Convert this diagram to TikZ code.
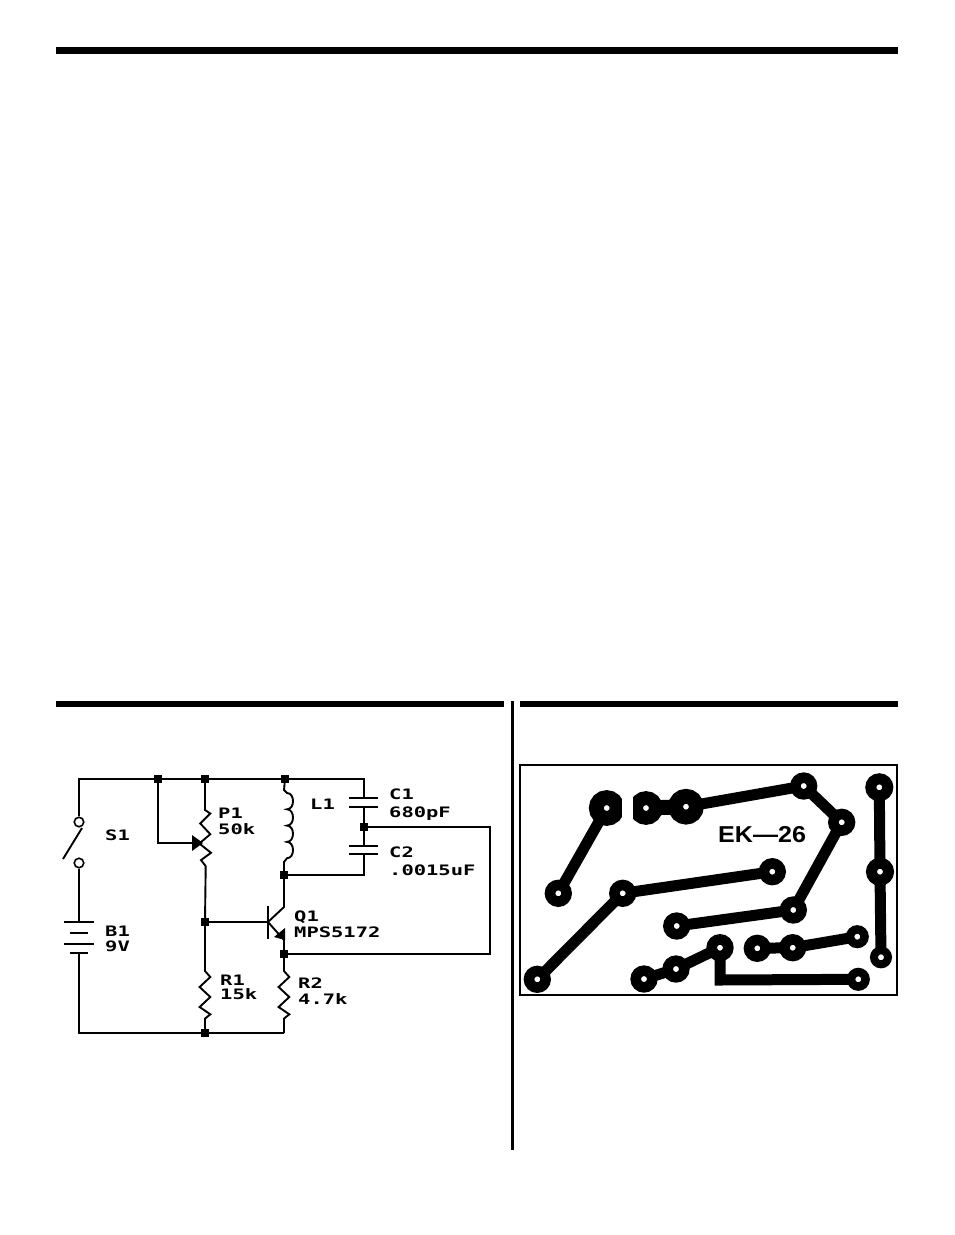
\documentclass[tikz,border=0pt]{standalone}
\usepackage{tikz}
\usepackage{fontspec}
\newfontfamily\schfont[FakeStretch=1.42]{DejaVu Sans Mono}
\newfontfamily\ekfont[FakeStretch=1.09]{Liberation Sans}
\tikzset{
  wire/.style={line width=1.9pt},
  dot/.style={rectangle,fill=black,inner sep=0pt,minimum size=8pt},
  term/.style={circle,draw,line width=1.6pt,fill=white,inner sep=0pt,minimum size=9.5pt},
  lab/.style={anchor=base west,inner sep=0pt,font=\schfont\bfseries\fontsize{14.4}{15}\selectfont},
  pad/.style={circle,draw=black,fill=white,inner sep=0pt,line width={(#1)-3},minimum size={(#1)+3}},
  pad/.default=13.6,
  trace/.style={line width=#1,shorten >=-3pt,shorten <=-3pt},
  trace/.default=11pt
}
\newcommand{\zigres}{-- ++(5.3,6) -- ++(-10.7,10) -- ++(10.7,10) -- ++(-10.7,10) -- ++(10.7,7.3) -- ++(-5.3,4.3)}
\newcommand{\coilbump}{.. controls +(8,0) and +(8,0) .. ++(0,16.3)}
\begin{document}
\begin{tikzpicture}[x=1pt,y=-1pt]
        \useasboundingbox (0,0) rectangle (954,1235);
        \fill (56,47) rectangle (898,54);
        \fill (56,701) rectangle (504,707);
        \fill (520,701) rectangle (898,707);
        \fill (511,701) rectangle (514,1150);

        \node[dot](a) at (158,779) {};
        \node[dot](b) at (205,779) {};
        \node[dot](c) at (285,779) {};
        \node[dot](d) at (205,922) {};
        \node[dot](e) at (205,1033) {};
        \node[dot](f) at (284,875) {};
        \node[dot](g) at (364,827) {};
        \node[dot](h) at (284,954) {};
        \node[term](s1a) at (79,822) {};
        \node[term](s1b) at (79,863) {};
        \coordinate(tl) at (79,779);
        \coordinate(bl) at (79,1033);
        \coordinate(br) at (284,1033);
        \coordinate(tc) at (364,779);
        \coordinate(bc) at (364,875);
        \coordinate(wp) at (158,843);
        \coordinate(fa) at (490,827);
        \coordinate(fb) at (490,954);
        \coordinate(arma) at (63,859);
        \coordinate(armb) at (82,828);
        \coordinate(bat1) at (79,922);
        \coordinate(bat2) at (79,953);
        \coordinate(c1a) at (364,798);
        \coordinate(c1b) at (364,807);
        \coordinate(c2a) at (364,846);
        \coordinate(c2b) at (364,854);
        \coordinate(qb) at (268,922);
        \coordinate(qc) at (284,907);
        \coordinate(qe) at (284,940);

        \begin{scope}[wire]
        \draw(s1a)--(tl)--(c);
        \draw(a)--(wp)--(192,843);
        \draw(s1b)--(bat1);
        \draw(bat2)--(bl)--(br);
        \draw(armb)--(arma);
        \draw(c)--(tc)--(c1a);
        \draw(c1b)--(g);
        \draw(g)--(c2a);
        \draw(c2b)--(bc)--(f);
        \draw(g)--(fa)--(fb)--(h);
        \draw(d)--(qb);
        \draw(qb)--(qc)--(f);
        \draw(qb)--(qe)--(h);
        \draw(268,906)--(268,939);
        \draw(349,798)--(378,798);
        \draw(349,807)--(378,807);
        \draw(349,846)--(378,846);
        \draw(349,854)--(378,854);
        \draw(64,922)--(94,922);
        \draw(70,933)--(88,933);
        \draw(64,944)--(94,944);
        \draw(70,953)--(88,953);
        \draw(b)--(205,810) -- ++(5.3,3.5) -- ++(-10,10) -- ++(10,10.7) -- ++(-11,9.3) -- ++(11.7,9.3) -- ++(-10,7.3) -- ++(4.7,6) -- (d);
        \draw(d)--(205,971) \zigres -- (e);
        \draw(h)--(284,971) -- ++(5.3,6) -- ++(-10.7,10) -- ++(10.7,10) -- ++(-10.7,10) -- ++(10.7,7.3) -- ++(-5.3,4.3) -- (br);
        \draw(c)--(284,790)--(287,793) \coilbump \coilbump \coilbump \coilbump --(284,862)--(f);
        \end{scope}
        \fill (192,835) -- (203,843) -- (192,851) -- cycle;
        \fill (285,928) -- (274,937) -- (285,940) -- cycle;

        \node[lab](s1) at (105,840) {S1};
        \node[lab](b1) at (105,936) {B1};
        \node[lab](b1v) at (105,951) {9V};
        \node[lab](p1) at (218,818) {P1};
        \node[lab](p1v) at (218,834) {50k};
        \node[lab](r1) at (220,985) {R1};
        \node[lab](r1v) at (220,999) {15k};
        \node[lab](l1) at (310,809) {L1};
        \node[lab](c1) at (389,799) {C1};
        \node[lab](c1v) at (389,817) {680pF};
        \node[lab](c2) at (389,857) {C2};
        \node[lab](c2v) at (389,875) {.0015uF};
        \node[lab](q1) at (294,921) {Q1};
        \node[lab](q1v) at (294,937) {MPS5172};
        \node[lab](r2) at (298,988) {R2};
        \node[lab](r2v) at (298,1004) {4.7k};

        \node[draw,line width=1.3pt,inner sep=0pt,minimum width=377pt,minimum height=230pt](board) at (708.5,880) {};
        \node[pad=17.8](pa) at (606.7,808) {};
        \node[pad=16.8](pb) at (646,808) {};
        \node[pad=17.8](pc) at (686,806.7) {};
        \node[pad](pd) at (558.3,893.3) {};
        \node[pad](pe) at (622.7,893.3) {};
        \node[pad](pf) at (537.3,979.3) {};
        \node[pad](pg) at (676.7,926) {};
        \node[pad](ph) at (676,969) {};
        \node[pad](pi) at (644,979) {};
        \node[pad](pj) at (803.7,786) {};
        \node[pad](pk) at (841.7,822.3) {};
        \node[pad](pl) at (772.3,871.7) {};
        \node[pad](pm) at (793.3,910) {};
        \node[pad](pn) at (720,947.7) {};
        \node[pad](po) at (757.3,948.3) {};
        \node[pad](pp) at (792.7,947.7) {};
        \node[pad=11.5](pq) at (857.3,936.7) {};
        \node[pad=11.5](pr) at (858.3,979.3) {};
        \node[pad=14](ps) at (879.3,787.3) {};
        \node[pad=14](pt) at (880,871.7) {};
        \node[pad=11](pu) at (881,957.3) {};
        \coordinate(pv) at (720,980);
        \fill[white] (622,785) rectangle (633,830);

        \draw[trace](pa)--(pd);
        \draw[trace=15pt](pb)--(pc);
        \draw[trace](pc)--(pj);
        \draw[trace](pj)--(pk);
        \draw[trace](pk)--(pm);
        \draw[trace](pm)--(pg);
        \draw[trace](pl)--(pe);
        \draw[trace](pe)--(pf);
        \draw[trace](pi)--(ph);
        \draw[trace](ph)--(pn);
        \draw[trace,line join=miter](pn)--(pv)--(pr);
        \draw[trace](po)--(pp);
        \draw[trace](pp)--(pq);
        \draw[trace](ps)--(pt);
        \draw[trace](pt)--(pu);

        \node[anchor=base west,inner sep=0pt,font=\ekfont\bfseries\fontsize{23}{24}\selectfont](ek) at (718,842) {EK—26};
\end{tikzpicture}
\end{document}
